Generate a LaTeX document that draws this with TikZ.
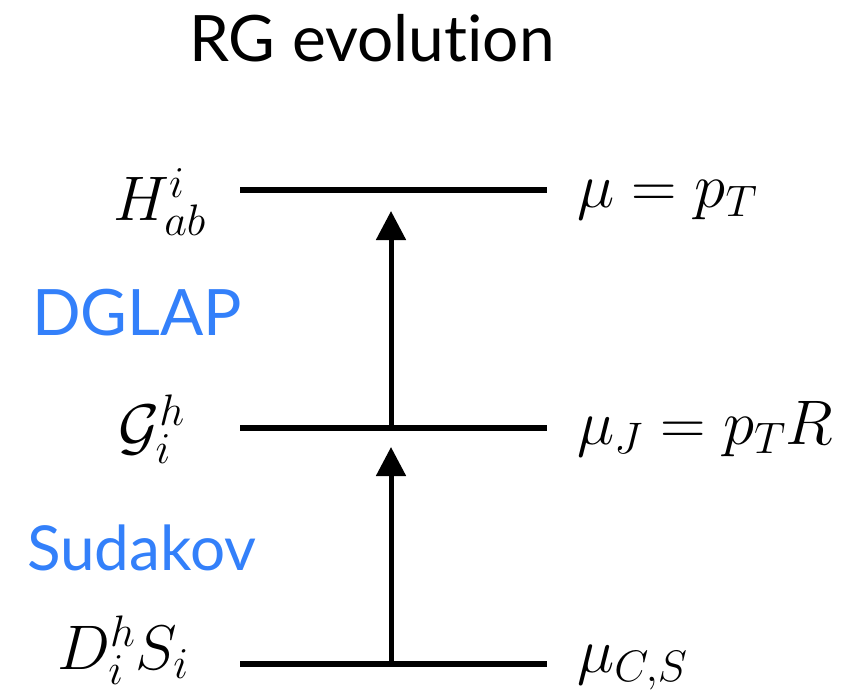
\RequirePackage{fix-cm}
\documentclass[tikz,border=0pt]{standalone}
\usepackage[no-math]{fontspec}
\setmainfont{Lato}[Ligatures=NoCommon]
\usetikzlibrary{arrows.meta}
\definecolor{sky}{RGB}{51,128,250}
\begin{document}
\begin{tikzpicture}[x=1pt,y=-1pt,
  level/.style={line width=6pt},
  evo/.style={line width=5pt,-{Triangle[length=29pt,width=29pt]}},
  mlabel/.style={inner sep=0pt,font=\fontsize{63}{63}\selectfont},
  gill/.style={inner sep=0pt,font=\fontsize{64}{64}\selectfont}]
\useasboundingbox (0,0) rectangle (867,693);
% title and side labels
\node[gill,anchor=base west] (title) at (189,62) {RG evolution};
\node[gill,anchor=base west,text=sky] (dglap) at (32,335) {DGLAP};
\node[gill,anchor=base west,text=sky,font=\fontsize{62}{62}\selectfont] (sudakov) at (27,570) {Sudakov};
% levels
\coordinate (h1) at (240,190); \coordinate (h2) at (547,190);
\coordinate (g1) at (240,428); \coordinate (g2) at (547,428);
\coordinate (d1) at (240,664); \coordinate (d2) at (547,664);
\draw[level] (h1) -- (h2);
\draw[level] (g1) -- (g2);
\draw[level] (d1) -- (d2);
% arrows
\coordinate (ga) at (391,428); \coordinate (ht) at (391,211);
\coordinate (da) at (391,664); \coordinate (gt) at (391,447);
\draw[evo] (ga) -- (ht);
\draw[evo] (da) -- (gt);
% math labels
\node[mlabel,anchor=base west] (hl) at (113,220) {$H^i_{ab}$};
\node[mlabel,anchor=base west] (gl) at (118,448) {$\mathcal{G}^h_i$};
\node[mlabel,anchor=base west] (dl) at (57,669) {$D^h_i S_i$};
\node[mlabel,anchor=base west] (hr) at (577,207) {$\mu = p_T$};
\node[mlabel,anchor=base west] (gr) at (577,444) {$\mu_J = p_T R$};
\node[mlabel,anchor=base west] (dr) at (577,672) {$\mu_{C,S}$};
\end{tikzpicture}
\end{document}
